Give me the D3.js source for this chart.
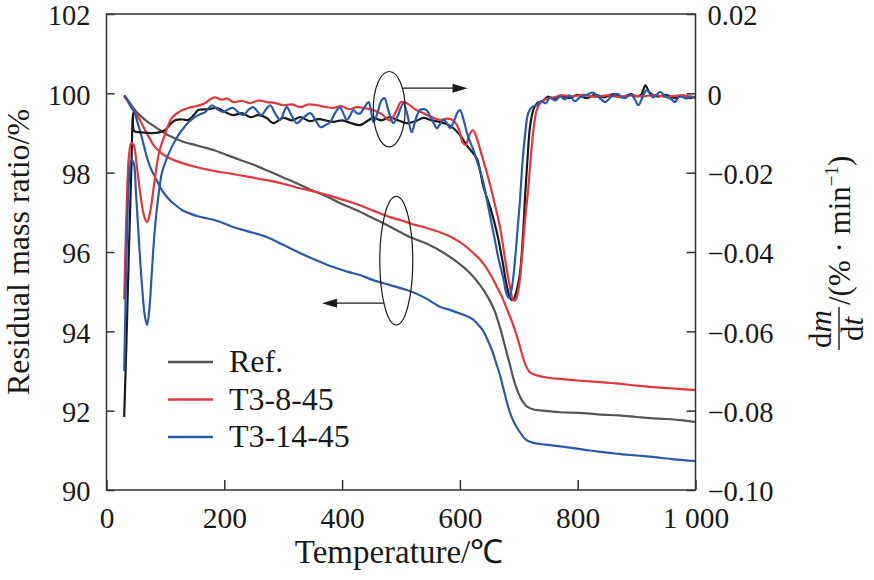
<!DOCTYPE html>
<html><head><meta charset="utf-8">
<script src="https://cdn.jsdelivr.net/npm/d3@7"></script>
<style>
body{margin:0;background:#fff}
text{font-family:"Liberation Serif","Times New Roman",serif;fill:#1a1a1a}
</style>
</head><body>
<svg id="c" width="874" height="580"></svg>
<script>
// ---------- data ----------
const seriesNames = ["Ref.", "T3-8-45", "T3-14-45"];
const xTicks = [0, 200, 400, 600, 800, 1000];
const xTickLabels = ["0", "200", "400", "600", "800", "1 000"];
const yLeftTicks = [90, 92, 94, 96, 98, 100, 102];
const yRightTicks = [-0.10, -0.08, -0.06, -0.04, -0.02, 0, 0.02];
const yRightLabels = ["\u22120.10", "\u22120.08", "\u22120.06", "\u22120.04", "\u22120.02", "0", "0.02"];

// TG: [temperature °C, residual mass ratio %]
const tgRef = [[30,99.95],[35,99.85],[40,99.75],[50,99.55],[60,99.4],[70,99.28],[80,99.18],[90,99.08],[100,98.98],[111,98.9],[130,98.78],[150,98.7],[170,98.62],[184,98.56],[200,98.47],[225,98.33],[250,98.2],[275,98.04],[300,97.88],[325,97.72],[350,97.55],[375,97.39],[397,97.23],[425,97.05],[450,96.87],[480,96.65],[515,96.38],[545,96.2],[570,96.0],[595,95.75],[617,95.47],[635,95.15],[648,94.85],[658,94.55],[668,94.1],[677,93.6],[685,93.15],[692,92.75],[700,92.42],[707,92.22],[714,92.1],[725,92.03],[741,92.0],[770,91.96],[809,91.94],[840,91.9],[870,91.88],[900,91.84],[923,91.81],[950,91.79],[975,91.76],[1000,91.71]];
const tgT3_8 = [[30,99.92],[35,99.82],[40,99.7],[47,99.55],[54,99.4],[61,99.2],[68,99.0],[75,98.82],[82,98.65],[91,98.52],[100,98.42],[111,98.34],[125,98.26],[150,98.15],[184,98.04],[210,97.98],[240,97.9],[272,97.81],[300,97.72],[330,97.6],[360,97.5],[385,97.39],[410,97.28],[430,97.18],[455,97.03],[481,96.88],[500,96.8],[520,96.7],[545,96.6],[566,96.5],[585,96.38],[600,96.25],[612,96.12],[623,95.97],[635,95.8],[645,95.6],[655,95.35],[663,95.12],[672,94.85],[680,94.55],[687,94.3],[693,94.05],[700,93.72],[707,93.35],[713,93.1],[718,92.98],[725,92.92],[735,92.87],[750,92.83],[770,92.8],[800,92.76],[838,92.72],[870,92.68],[900,92.63],[923,92.6],[960,92.56],[1000,92.52]];
const tgT3_14 = [[30,99.95],[35,99.85],[40,99.7],[44,99.6],[48,99.5],[53,99.25],[58,99.0],[64,98.65],[70,98.32],[76,98.08],[82,97.9],[88,97.72],[94,97.56],[102,97.4],[110,97.27],[120,97.15],[128,97.06],[140,96.98],[155,96.9],[170,96.85],[184,96.8],[200,96.72],[215,96.63],[240,96.52],[272,96.38],[300,96.18],[329,95.97],[355,95.8],[385,95.62],[410,95.5],[430,95.42],[453,95.29],[480,95.17],[510,95.04],[540,94.85],[566,94.62],[583,94.54],[600,94.45],[612,94.38],[622,94.3],[632,94.15],[640,94.0],[648,93.75],[655,93.5],[662,93.18],[668,92.9],[674,92.55],[680,92.2],[685,91.95],[692,91.7],[700,91.5],[707,91.35],[713,91.26],[722,91.2],[735,91.16],[753,91.13],[780,91.08],[810,91.02],[838,90.96],[870,90.91],[900,90.87],[923,90.84],[960,90.78],[1000,90.73]];

// DTG: [temperature °C, dm/dt %/min]
const dtgRef = [[30,-0.0816],[34,-0.062],[38,-0.040],[42,-0.020],[45,-0.005],[47,-0.0095],[55,-0.0098],[65,-0.0099],[82,-0.0100],[99,-0.0093],[110,-0.0075],[118,-0.0067],[130,-0.0066],[139,-0.0067],[148,-0.0055],[156,-0.0042],[172,-0.0040],[188,-0.0037],[200,-0.0046],[215,-0.0055],[230,-0.0050],[244,-0.0060],[258,-0.0055],[272,-0.0062],[283,-0.0075],[300,-0.0062],[315,-0.0068],[329,-0.0060],[345,-0.0070],[360,-0.0065],[385,-0.0072],[400,-0.0068],[415,-0.0075],[430,-0.0080],[453,-0.0062],[467,-0.0068],[481,-0.0060],[495,-0.0068],[510,-0.0075],[525,-0.0070],[538,-0.0062],[552,-0.0068],[566,-0.0072],[578,-0.0078],[589,-0.0088],[600,-0.0105],[612,-0.0132],[622,-0.0150],[629,-0.0165],[635,-0.0200],[640,-0.0236],[652,-0.0290],[663,-0.0352],[672,-0.0420],[680,-0.0488],[686,-0.0518],[690,-0.0521],[695,-0.0505],[702,-0.0453],[707,-0.0360],[711,-0.0251],[715,-0.0160],[719,-0.0085],[725,-0.0040],[731,-0.0025],[740,-0.0020],[750,-0.0008],[759,-0.0015],[770,-0.0006],[785,-0.0012],[800,-0.0004],[815,-0.0012],[830,-0.0003],[845,-0.0010],[860,-0.0002],[875,-0.0010],[890,-0.0002],[900,-0.0008],[908,-0.0003],[915,0.0020],[922,0.0002],[935,-0.0008],[950,-0.0004],[965,-0.0012],[980,-0.0006],[990,-0.0012],[1000,-0.0008]];
const dtgT3_8 = [[30,-0.052],[32,-0.040],[35,-0.025],[38,-0.016],[42,-0.0125],[46,-0.0130],[52,-0.019],[58,-0.026],[64,-0.031],[69,-0.0324],[74,-0.030],[79,-0.025],[84,-0.0195],[90,-0.0145],[99,-0.0105],[111,-0.0062],[125,-0.0045],[139,-0.0037],[153,-0.0032],[167,-0.0025],[176,-0.0015],[184,-0.0010],[195,-0.0016],[205,-0.0013],[215,-0.0022],[230,-0.0019],[244,-0.0025],[258,-0.0018],[272,-0.0022],[286,-0.0024],[300,-0.0030],[315,-0.0028],[329,-0.0035],[343,-0.0028],[357,-0.0030],[371,-0.0034],[385,-0.0037],[398,-0.0032],[412,-0.0040],[425,-0.0035],[440,-0.0038],[453,-0.0042],[467,-0.0052],[481,-0.0068],[492,-0.0045],[500,-0.0022],[510,-0.0025],[524,-0.0040],[538,-0.0050],[552,-0.0060],[566,-0.0067],[578,-0.0064],[589,-0.0068],[598,-0.0090],[605,-0.0125],[610,-0.0130],[616,-0.0105],[622,-0.0093],[628,-0.0110],[635,-0.0145],[646,-0.0201],[657,-0.0265],[668,-0.0337],[678,-0.0430],[685,-0.0488],[690,-0.0520],[694,-0.0522],[700,-0.0490],[705,-0.0420],[710,-0.0330],[716,-0.0240],[721,-0.0150],[725,-0.0090],[730,-0.0045],[736,-0.0025],[745,-0.0015],[760,-0.0010],[775,-0.0005],[790,-0.0008],[810,-0.0004],[830,-0.0009],[850,-0.0005],[870,-0.0009],[890,-0.0005],[910,-0.0008],[930,-0.0004],[950,-0.0009],[975,-0.0005],[1000,-0.0010]];
const dtgT3_14 = [[30,-0.070],[32,-0.055],[35,-0.035],[38,-0.022],[42,-0.0168],[46,-0.0175],[50,-0.025],[55,-0.037],[60,-0.048],[65,-0.056],[69,-0.0584],[73,-0.054],[77,-0.045],[82,-0.0345],[88,-0.026],[94,-0.0201],[102,-0.0165],[111,-0.0135],[120,-0.0110],[128,-0.0093],[138,-0.0075],[150,-0.0060],[160,-0.0052],[167,-0.0048],[173,-0.0038],[179,-0.0030],[188,-0.0040],[198,-0.0047],[207,-0.0040],[215,-0.0037],[224,-0.0048],[232,-0.0055],[241,-0.0042],[249,-0.0035],[256,-0.0045],[263,-0.0055],[271,-0.0040],[278,-0.0030],[286,-0.0050],[295,-0.0067],[301,-0.0048],[306,-0.0035],[314,-0.0055],[323,-0.0075],[334,-0.0062],[346,-0.0050],[355,-0.0068],[363,-0.0085],[372,-0.0080],[380,-0.0072],[388,-0.0050],[396,-0.0035],[402,-0.0050],[408,-0.0067],[414,-0.0055],[419,-0.0042],[425,-0.0050],[431,-0.0050],[438,-0.0035],[445,-0.0022],[449,-0.0045],[453,-0.0072],[460,-0.0050],[466,-0.0020],[472,-0.0012],[478,-0.0040],[487,-0.0075],[495,-0.0055],[504,-0.0025],[511,-0.0055],[518,-0.0098],[525,-0.0065],[532,-0.0042],[538,-0.0040],[543,-0.0042],[552,-0.0065],[561,-0.0088],[566,-0.0078],[572,-0.0067],[578,-0.0075],[583,-0.0088],[590,-0.0070],[596,-0.0048],[600,-0.0042],[606,-0.0065],[612,-0.0100],[618,-0.0125],[623,-0.0143],[630,-0.0175],[640,-0.0226],[648,-0.0285],[657,-0.0352],[666,-0.0420],[674,-0.0468],[679,-0.0505],[683,-0.0516],[687,-0.0500],[692,-0.0445],[697,-0.0360],[702,-0.0269],[706,-0.0180],[711,-0.0100],[716,-0.0050],[722,-0.0035],[730,-0.0030],[738,-0.0020],[746,-0.0025],[753,-0.0010],[762,-0.0018],[770,-0.0008],[778,-0.0015],[786,-0.0005],[795,-0.0020],[804,-0.0010],[815,-0.0004],[826,0.0002],[836,-0.0010],[847,-0.0022],[857,-0.0008],[867,-0.0001],[874,-0.0008],[880,-0.0012],[890,-0.0003],[897,-0.0015],[903,-0.0030],[910,-0.0010],[917,0.0008],[923,-0.0002],[928,-0.0010],[934,-0.0004],[940,0.0004],[946,-0.0004],[952,-0.0010],[958,-0.0014],[965,-0.0022],[970,-0.0012],[975,-0.0008],[985,-0.0013],[992,-0.0008],[1000,-0.0012]];

// annotations (data units): ellipse centre/radii, arrows
const annEllipses = [[480, 99.6, 27, 0.95], [492, 95.78, 28, 1.62]];
const annArrows = [[503, 100.13, 613, 100.13], [471, 94.71, 366, 94.71]];

// ---------- styles ----------
const tgColors = ["#555555", "#e0383c", "#2b5aa8"];
const dtgColors = ["#1a1a1a", "#e0383c", "#2b5aa8"];
const axisColor = "#333";

// ---------- layout ----------
const svg = d3.select("#c");
const L = 106.5, R = 695.5, T = 14, B = 490;
const x = d3.scaleLinear().domain([0, 1000]).range([L, R]);
const yL = d3.scaleLinear().domain([90, 102]).range([B, T]);
const yR = d3.scaleLinear().domain([-0.10, 0.02]).range([B, T]);

svg.append("defs").append("clipPath").attr("id", "clip")
  .append("rect").attr("x", L).attr("y", T).attr("width", R - L).attr("height", B - T);

// lines
const lineL = d3.line().x(d => x(d[0])).y(d => yL(d[1])).curve(d3.curveCatmullRom.alpha(0.5));
const lineR = d3.line().x(d => x(d[0])).y(d => yR(d[1])).curve(d3.curveCatmullRom.alpha(0.5));
const plot = svg.append("g").attr("clip-path", "url(#clip)");
[tgRef, tgT3_8, tgT3_14].forEach((s, i) => {
  plot.append("path").datum(s).attr("d", lineL).attr("fill", "none")
    .attr("stroke", tgColors[i]).attr("stroke-width", 2.2).attr("stroke-linejoin", "round");
});
[dtgRef, dtgT3_8, dtgT3_14].forEach((s, i) => {
  plot.append("path").datum(s).attr("d", lineR).attr("fill", "none")
    .attr("stroke", dtgColors[i]).attr("stroke-width", 2.2).attr("stroke-linejoin", "round");
});

// frame
svg.append("rect").attr("x", L).attr("y", T).attr("width", R - L).attr("height", B - T)
  .attr("fill", "none").attr("stroke", axisColor).attr("stroke-width", 1.5);

// axes
function styleAxis(g, fs, vertical) {
  g.attr("font-family", '"Liberation Serif","Times New Roman",serif').attr("font-size", fs).style("color", axisColor);
  g.select(".domain").remove();
  g.selectAll(".tick line").attr("stroke-width", 1.5);
  g.selectAll(".tick text").style("fill", "#1a1a1a");
  if (vertical) g.selectAll(".tick text").attr("dy", "0.38em");
}
svg.append("g").attr("transform", `translate(${L},0)`)
  .call(d3.axisLeft(yL).tickValues(yLeftTicks).tickFormat(d3.format("d")).tickSizeInner(-8).tickSizeOuter(0).tickPadding(16))
  .call(g => styleAxis(g, 28.5, true));
svg.append("g").attr("transform", `translate(${R},0)`)
  .call(d3.axisRight(yR).tickValues(yRightTicks).tickFormat((d, i) => yRightLabels[i]).tickSizeInner(-9).tickSizeOuter(0).tickPadding(12))
  .call(g => styleAxis(g, 28.5, true));
svg.append("g").attr("transform", `translate(0,${B})`)
  .call(d3.axisBottom(x).tickValues(xTicks).tickFormat((d, i) => xTickLabels[i]).tickSizeInner(-10).tickSizeOuter(0).tickPadding(17))
  .call(g => styleAxis(g, 29.5, false));

// axis titles
svg.append("text").attr("transform", `translate(399,563)`).attr("text-anchor", "middle")
  .attr("font-size", 33).text("Temperature/\u2103");
svg.append("text").attr("transform", `translate(29,${(T + B) / 2})rotate(-90)`).attr("text-anchor", "middle")
  .attr("font-size", 32).text("Residual mass ratio/%");

const rt = svg.append("g").attr("transform", "translate(842,350)rotate(-90)").attr("font-size", 31);
const num = rt.append("text").attr("x", 21).attr("y", -11).attr("text-anchor", "middle");
num.append("tspan").text("d"); num.append("tspan").attr("font-style", "italic").text("m");
rt.append("line").attr("x1", 0).attr("x2", 43).attr("y1", -3).attr("y2", -3).attr("stroke", "#1a1a1a").attr("stroke-width", 1.4);
const den = rt.append("text").attr("x", 21).attr("y", 21).attr("text-anchor", "middle");
den.append("tspan").text("d"); den.append("tspan").attr("font-style", "italic").text("t");
const unit = rt.append("text").attr("x", 45).attr("y", 8);
unit.append("tspan").text("/(% \u00b7 min");
unit.append("tspan").attr("font-size", 19).attr("dy", -12).text("\u22121");
unit.append("tspan").attr("dy", 12).text(")");

// legend
const lg = svg.append("g");
seriesNames.forEach((n, i) => {
  const yy = 362 + i * 37.5;
  lg.append("line").attr("x1", 168).attr("x2", 213).attr("y1", yy).attr("y2", yy)
    .attr("stroke", tgColors[i]).attr("stroke-width", 2.5);
  lg.append("text").attr("x", 229).attr("y", yy + 10).attr("font-size", 32).text(n);
});

// annotations
annEllipses.forEach(e => {
  svg.append("ellipse").attr("cx", x(e[0])).attr("cy", yL(e[1]))
    .attr("rx", x(e[0] + e[2]) - x(e[0])).attr("ry", yL(e[1] - e[3]) - yL(e[1]))
    .attr("fill", "none").attr("stroke", "#1a1a1a").attr("stroke-width", 1.2);
});
annArrows.forEach(a => {
  const x1 = x(a[0]), y1 = yL(a[1]), x2 = x(a[2]), y2 = yL(a[3]);
  const dir = Math.sign(x2 - x1);
  svg.append("line").attr("x1", x1).attr("y1", y1).attr("x2", x2 - dir * 10).attr("y2", y2)
    .attr("stroke", "#1a1a1a").attr("stroke-width", 1.2);
  svg.append("path").attr("d", `M${x2},${y2}L${x2 - dir * 15},${y2 - 4.5}L${x2 - dir * 15},${y2 + 4.5}Z`)
    .attr("fill", "#1a1a1a");
});
</script>
</body></html>
